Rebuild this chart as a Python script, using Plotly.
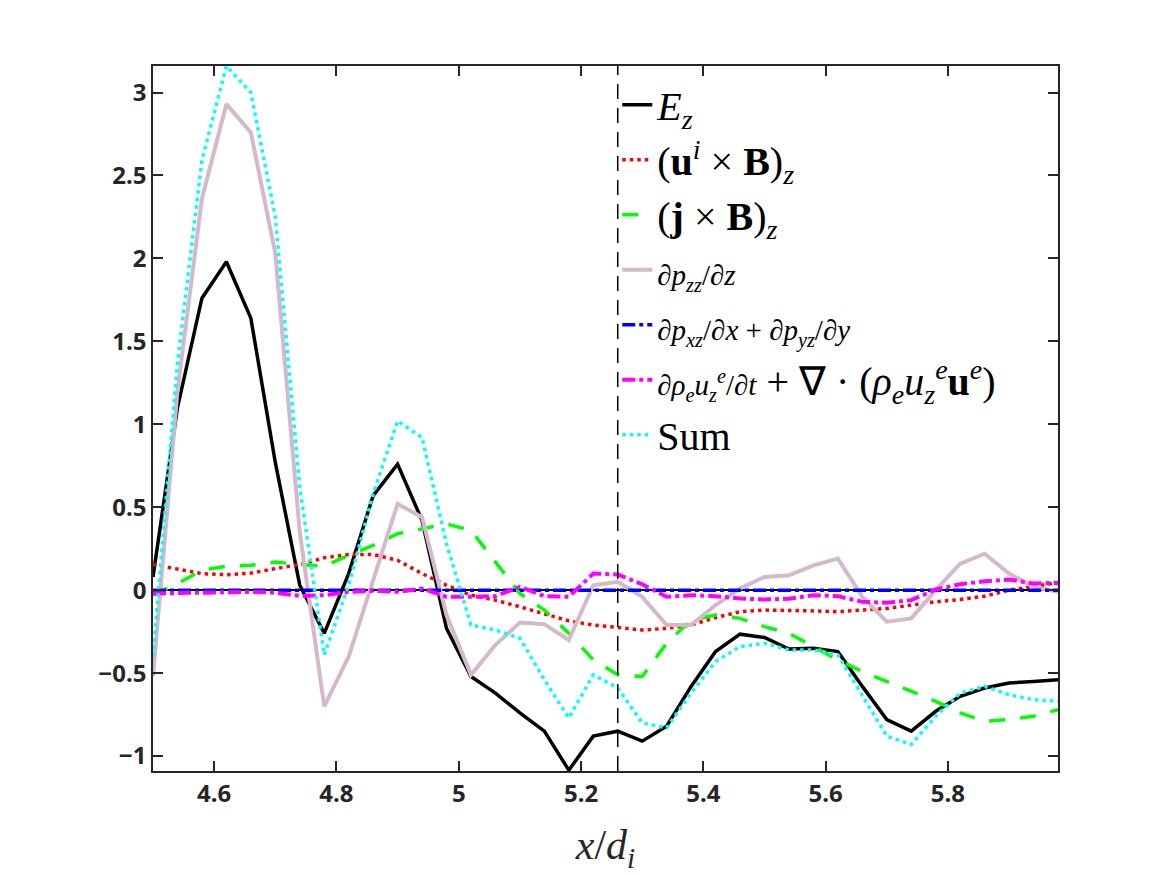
import plotly.graph_objects as go

x_di = [4.50, 4.54, 4.58, 4.62, 4.66, 4.70, 4.74, 4.78, 4.82, 4.86,
        4.90, 4.94, 4.98, 5.02, 5.06, 5.10, 5.14, 5.18, 5.22, 5.26,
        5.30, 5.34, 5.38, 5.42, 5.46, 5.50, 5.54, 5.58, 5.62, 5.66,
        5.70, 5.74, 5.78, 5.82, 5.86, 5.90, 5.94, 5.98]

E_z = [0.08, 1.10, 1.76, 1.98, 1.64, 0.77, 0.03, -0.26, 0.10, 0.57,
       0.76, 0.42, -0.23, -0.52, -0.62, -0.74, -0.85, -1.085, -0.88, -0.85,
       -0.91, -0.82, -0.58, -0.37, -0.265, -0.285, -0.355, -0.35, -0.37, -0.58,
       -0.78, -0.85, -0.73, -0.64, -0.59, -0.56, -0.55, -0.54]

uixB = [0.155, 0.125, 0.10, 0.093, 0.103, 0.13, 0.155, 0.195, 0.215, 0.215,
        0.18, 0.10, 0.03, -0.03, -0.06, -0.10, -0.145, -0.185, -0.21, -0.225,
        -0.24, -0.23, -0.21, -0.165, -0.13, -0.12, -0.12, -0.125, -0.13, -0.12,
        -0.11, -0.09, -0.07, -0.056, -0.036, 0.0, 0.024, 0.046]

jxB = [-0.03, 0.04, 0.12, 0.145, 0.15, 0.17, 0.155, 0.145, 0.21, 0.27,
       0.34, 0.37, 0.40, 0.36, 0.17, -0.02, -0.12, -0.26, -0.42, -0.51,
       -0.52, -0.32, -0.18, -0.15, -0.17, -0.22, -0.26, -0.34, -0.42, -0.49,
       -0.55, -0.61, -0.67, -0.74, -0.79, -0.78, -0.76, -0.72]

dpzz_dz = [-0.52, 1.20, 2.36, 2.93, 2.76, 2.03, 0.35, -0.70, -0.40, 0.06,
           0.52, 0.44, -0.15, -0.51, -0.33, -0.195, -0.205, -0.30, 0.03, 0.05,
           -0.04, -0.21, -0.21, -0.09, 0.01, 0.08, 0.09, 0.15, 0.19, -0.04,
           -0.19, -0.17, 0.0, 0.16, 0.22, 0.10, 0.02, -0.01]

dpxz_dpyz = [0.0, 0.0, 0.0, 0.0, 0.0, 0.0, 0.0, 0.0, 0.0, 0.0,
             0.0, 0.0, 0.0, 0.0, 0.0, 0.0, 0.0, 0.0, 0.0, 0.0,
             0.0, 0.0, 0.0, 0.0, 0.0, 0.0, 0.0, 0.0, 0.0, 0.0,
             0.0, 0.0, 0.0, 0.0, 0.0, 0.0, 0.0, 0.0]

inertia = [-0.02, -0.018, -0.015, -0.012, -0.01, -0.015, -0.035, -0.03, -0.01, -0.004,
           -0.01, 0.01, -0.04, -0.04, -0.036, 0.02, -0.036, -0.04, 0.10, 0.095,
           0.036, -0.04, -0.03, -0.036, -0.05, -0.056, -0.052, -0.03, -0.036, -0.07,
           -0.076, -0.06, 0.004, 0.036, 0.054, 0.064, 0.04, 0.044]

total = [-0.40, 1.37, 2.59, 3.16, 3.00, 2.25, 0.62, -0.39, 0.03, 0.58,
         1.02, 0.92, 0.28, -0.21, -0.24, -0.29, -0.54, -0.77, -0.51, -0.59,
         -0.80, -0.83, -0.62, -0.43, -0.34, -0.32, -0.36, -0.36, -0.39, -0.64,
         -0.88, -0.93, -0.76, -0.62, -0.58, -0.63, -0.66, -0.67]

x_marker = 5.26
x_ticks = [4.6, 4.8, 5.0, 5.2, 5.4, 5.6, 5.8]
x_ticktext = ["4.6", "4.8", "5", "5.2", "5.4", "5.6", "5.8"]
y_ticks = [-1, -0.5, 0, 0.5, 1, 1.5, 2, 2.5, 3]
x_range = [4.5, 5.98]
y_range = [-1.09, 3.16]

FR = "<span style=\"font-size:29px;font-family:'Liberation Serif'\">"
names = [
    "<i>E</i><sub><i>z</i></sub>",
    "(<b>u</b><sup><i>i</i></sup> × <b>B</b>)<sub><i>z</i></sub>",
    "(<b>j</b> × <b>B</b>)<sub><i>z</i></sub>",
    FR + "∂<i>p</i><sub><i>zz</i></sub>/∂<i>z</i></span>",
    FR + "∂<i>p</i><sub><i>xz</i></sub>/∂<i>x</i> + ∂<i>p</i><sub><i>yz</i></sub>/∂<i>y</i></span>",
    FR + "∂<i>ρ</i><sub><i>e</i></sub><i>u</i><sub><i>z</i></sub><sup><i>e</i></sup>/∂<i>t</i></span>"
    + " + ∇ · (<i>ρ</i><sub><i>e</i></sub><i>u</i><sub><i>z</i></sub><sup><i>e</i></sup><b>u</b><sup><i>e</i></sup>)",
    "Sum",
]

series = [E_z, uixB, jxB, dpzz_dz, dpxz_dpyz, inertia, total]
styles = [
    dict(color="#000000", width=3.5, dash="solid"),
    dict(color="#FF0000", width=3.5, dash="3.5px,4px"),
    dict(color="#00FF00", width=3.5, dash="16px,15px"),
    dict(color="#D5B8CB", width=4, dash="solid"),
    dict(color="#0000FF", width=3.5, dash="13px,4px,4px,4px"),
    dict(color="#FF00FF", width=4, dash="13px,4px,4px,4px"),
    dict(color="#00FFFF", width=3.5, dash="3.5px,4px"),
]

fig = go.Figure()
for nm, ys, st in zip(names, series, styles):
    fig.add_trace(go.Scatter(x=x_di, y=ys, mode="lines", name=nm, line=st))

fig.add_vline(x=x_marker, line=dict(color="#000000", width=1.5, dash="15px,9px"), layer="above")

axis_col = "#262626"
tick_font = dict(family="Noto Sans", size=24, color=axis_col, weight="bold")

fig.update_layout(
    width=1167, height=875,
    margin=dict(l=153, r=109, t=66, b=104),
    paper_bgcolor="white", plot_bgcolor="white",
    showlegend=True,
    legend=dict(
        x=0.513, y=0.991, xanchor="left", yanchor="top",
        bgcolor="rgba(0,0,0,0)",
        font=dict(family="Liberation Serif", size=40, color="#000000"),
        tracegroupgap=0,
    ),
    xaxis=dict(
        range=x_range, tickvals=x_ticks, ticktext=x_ticktext,
        ticks="inside", ticklen=10, tickwidth=1.5, tickcolor=axis_col,
        showline=True, linecolor=axis_col, linewidth=1.5, mirror="ticks",
        showgrid=False, zeroline=False, tickfont=tick_font,
        title=dict(text="<i>x</i>/<i>d</i><sub><i>i</i></sub>",
                   font=dict(family="Liberation Serif", size=42, color=axis_col),
                   standoff=22),
    ),
    yaxis=dict(
        range=y_range, tickvals=y_ticks,
        ticks="inside", ticklen=10, tickwidth=1.5, tickcolor=axis_col,
        showline=True, linecolor=axis_col, linewidth=1.5, mirror="ticks",
        showgrid=False, zeroline=True, zerolinecolor="#000000", zerolinewidth=1.5,
        tickfont=tick_font,
    ),
)

fig.write_html("out.html")
